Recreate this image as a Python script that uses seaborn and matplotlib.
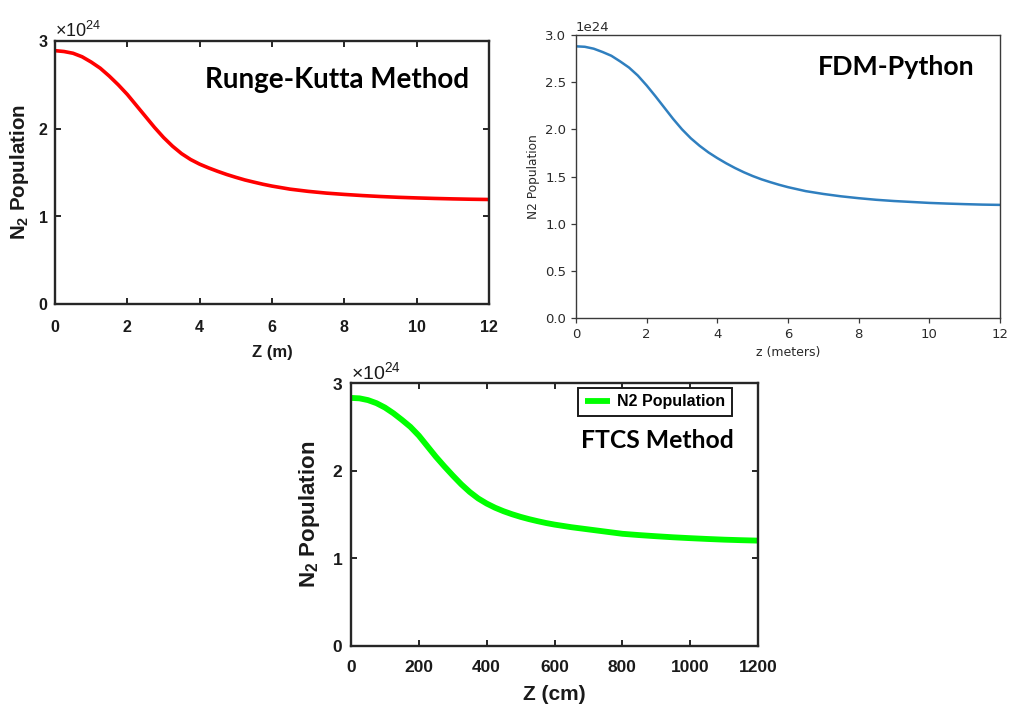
import matplotlib
matplotlib.use("Agg")
import matplotlib.pyplot as plt
import seaborn as sns
from matplotlib.ticker import ScalarFormatter

# ---------------------------------------------------------------------------
# N2 population along the fibre (in units of 1e24) from three solvers
# ---------------------------------------------------------------------------
SCALE = 1e24

z_rk_m = [0.0, 0.25, 0.5, 0.75, 1.0, 1.25, 1.5, 1.75, 2.0, 2.25, 2.5, 2.75,
          3.0, 3.25, 3.5, 3.75, 4.0, 4.25, 4.5, 4.75, 5.0, 5.25, 5.5, 5.75,
          6.0, 6.5, 7.0, 7.5, 8.0, 8.5, 9.0, 9.5, 10.0, 10.5, 11.0, 11.5, 12.0]
n2_rk = [2.89, 2.88, 2.86, 2.82, 2.76, 2.69, 2.60, 2.50, 2.39, 2.265, 2.14,
         2.015, 1.90, 1.80, 1.715, 1.648, 1.595, 1.552, 1.513, 1.477, 1.445,
         1.415, 1.39, 1.366, 1.345, 1.31, 1.285, 1.265, 1.25, 1.237, 1.226,
         1.217, 1.21, 1.204, 1.199, 1.195, 1.192]

z_fdm_m = [0.0, 0.25, 0.5, 0.75, 1.0, 1.25, 1.5, 1.75, 2.0, 2.25, 2.5, 2.75,
           3.0, 3.25, 3.5, 3.75, 4.0, 4.25, 4.5, 4.75, 5.0, 5.25, 5.5, 5.75,
           6.0, 6.5, 7.0, 7.5, 8.0, 8.5, 9.0, 9.5, 10.0, 10.5, 11.0, 11.5, 12.0]
n2_fdm = [2.88, 2.875, 2.855, 2.82, 2.78, 2.72, 2.655, 2.57, 2.465, 2.35,
          2.23, 2.11, 2.00, 1.905, 1.825, 1.755, 1.695, 1.64, 1.59, 1.545,
          1.505, 1.47, 1.44, 1.412, 1.387, 1.345, 1.315, 1.29, 1.27, 1.253,
          1.24, 1.23, 1.22, 1.213, 1.207, 1.202, 1.199]

z_ftcs_cm = [0, 25, 50, 75, 100, 125, 150, 175, 200, 225, 250, 275, 300, 325,
             350, 375, 400, 425, 450, 475, 500, 525, 550, 575, 600, 650, 700,
             750, 800, 850, 900, 950, 1000, 1050, 1100, 1150, 1200]
n2_ftcs = [2.83, 2.825, 2.805, 2.77, 2.72, 2.655, 2.58, 2.50, 2.40, 2.28,
           2.16, 2.05, 1.945, 1.845, 1.757, 1.683, 1.625, 1.577, 1.537, 1.503,
           1.473, 1.447, 1.424, 1.403, 1.385, 1.355, 1.33, 1.305, 1.28, 1.265,
           1.252, 1.24, 1.23, 1.221, 1.213, 1.207, 1.202]

rk_xticks = [0, 2, 4, 6, 8, 10, 12]
fdm_xticks = [0, 2, 4, 6, 8, 10, 12]
ftcs_xticks = [0, 200, 400, 600, 800, 1000, 1200]
int_yticks = [0, 1, 2, 3]
half_yticks = [0.0, 0.5, 1.0, 1.5, 2.0, 2.5, 3.0]

plt.rcParams["mathtext.fontset"] = "custom"
plt.rcParams["mathtext.rm"] = "Liberation Sans"
plt.rcParams["mathtext.bf"] = "Liberation Sans:bold"
plt.rcParams["mathtext.it"] = "Liberation Sans:italic"

W, H = 1011, 711
fig = plt.figure(figsize=(W / 100, H / 100), dpi=100)
fig.patch.set_facecolor("white")


def px_axes(left, top, right, bottom):
    return fig.add_axes([left / W, 1 - bottom / H, (right - left) / W, (bottom - top) / H])


TITLE_FONT = dict(family="Lato", weight="bold", color="black")
MATLAB_FONT = "Liberation Sans"


def matlab_style(ax, xticks, xlabel, tick_size, label_size, ylabel_size,
                 xpad, ypad, xlab_off, ylab_off, axw, axh):
    for s in ax.spines.values():
        s.set_linewidth(1.7)
        s.set_color("#262626")
    ax.set_xticks(xticks)
    ax.set_yticks([v * SCALE for v in int_yticks])
    ax.yaxis.set_major_formatter(ScalarFormatter(useMathText=True))
    ax.tick_params(direction="in", top=True, right=True, length=4.5, width=1.4,
                   color="#262626", labelsize=tick_size, labelcolor="#1a1a1a")
    ax.tick_params(axis="x", pad=xpad)
    ax.tick_params(axis="y", pad=ypad)
    for lab in ax.get_xticklabels() + ax.get_yticklabels():
        lab.set_fontweight("bold")
        lab.set_fontfamily(MATLAB_FONT)
    off = ax.yaxis.get_offset_text()
    off.set_fontsize(tick_size + 1.5)
    off.set_fontfamily(MATLAB_FONT)
    off.set_color("#1a1a1a")
    ax.set_xlabel(xlabel, fontsize=label_size, fontweight="bold",
                  family=MATLAB_FONT, color="#1a1a1a", va="center")
    ax.set_ylabel(r"$\mathbf{N_2}$ Population", fontsize=ylabel_size,
                  fontweight="bold", family=MATLAB_FONT, color="#1a1a1a",
                  va="center")
    ax.xaxis.set_label_coords(0.5, -xlab_off / axh)
    ax.yaxis.set_label_coords(-ylab_off / axw, 0.5)


# ---------------- Runge-Kutta (top left) ----------------
ax1 = px_axes(55, 41, 489, 304)
sns.lineplot(x=z_rk_m, y=[v * SCALE for v in n2_rk], ax=ax1, color="#ff0000",
             linewidth=2.6, legend=False, solid_joinstyle="round")
ax1.set_xlim(0, 12)
ax1.set_ylim(0, 3 * SCALE)
matlab_style(ax1, rk_xticks, "Z (m)", 11.5, 12, 14.8, 11.5, 5, 49, 35, 434, 263)
ax1.text(0.651, 0.852, "Runge-Kutta Method", transform=ax1.transAxes,
         ha="center", va="center", fontsize=20, **TITLE_FONT)

# ---------------- FDM-Python (top right) ----------------
ax2 = px_axes(576, 35, 1000, 318)
sns.lineplot(x=z_fdm_m, y=[v * SCALE for v in n2_fdm], ax=ax2, color="#2f7fbf",
             linewidth=1.8, legend=False, solid_joinstyle="round")
ax2.set_xlim(0, 12)
ax2.set_ylim(0, 3 * SCALE)
ax2.set_xticks(fdm_xticks)
ax2.set_yticks([v * SCALE for v in half_yticks])
for s in ax2.spines.values():
    s.set_linewidth(1.0)
    s.set_color("#3a3a3a")
ax2.tick_params(direction="out", length=3.5, width=0.9, color="#3a3a3a",
                labelsize=9.5, labelcolor="#2a2a2a")
ax2.yaxis.get_offset_text().set_fontsize(9.5)
ax2.yaxis.get_offset_text().set_color("#2a2a2a")
ax2.set_xlabel("z (meters)", fontsize=9, color="#2a2a2a")
ax2.set_ylabel("N2 Population", fontsize=8.7, color="#2a2a2a")
ax2.text(0.756, 0.887, "FDM-Python", transform=ax2.transAxes,
         ha="center", va="center", fontsize=19.3, **TITLE_FONT)

# ---------------- FTCS (bottom centre) ----------------
ax3 = px_axes(351, 383, 758, 646)
sns.lineplot(x=z_ftcs_cm, y=[v * SCALE for v in n2_ftcs], ax=ax3,
             color="#00ff00", linewidth=4.2, label="N2 Population",
             solid_joinstyle="round")
ax3.set_xlim(0, 1200)
ax3.set_ylim(0, 3 * SCALE)
matlab_style(ax3, ftcs_xticks, "Z (cm)", 12.5, 15, 16, 10, 5.5, 49, 41, 407, 263)
leg = ax3.legend(loc="upper right", bbox_to_anchor=(0.936, 0.981),
                 borderaxespad=0, fancybox=False, framealpha=1,
                 edgecolor="#1a1a1a", handlelength=1.6, handletextpad=0.45,
                 borderpad=0.4, prop=dict(family=MATLAB_FONT, weight="bold", size=11.5))
leg.get_frame().set_linewidth(1.4)
for h in leg.get_lines():
    h.set_solid_capstyle("butt")
ax3.text(0.752, 0.783, "FTCS Method", transform=ax3.transAxes,
         ha="center", va="center", fontsize=17.8, **TITLE_FONT)

fig.savefig("out.png", dpi=100, facecolor="white")
